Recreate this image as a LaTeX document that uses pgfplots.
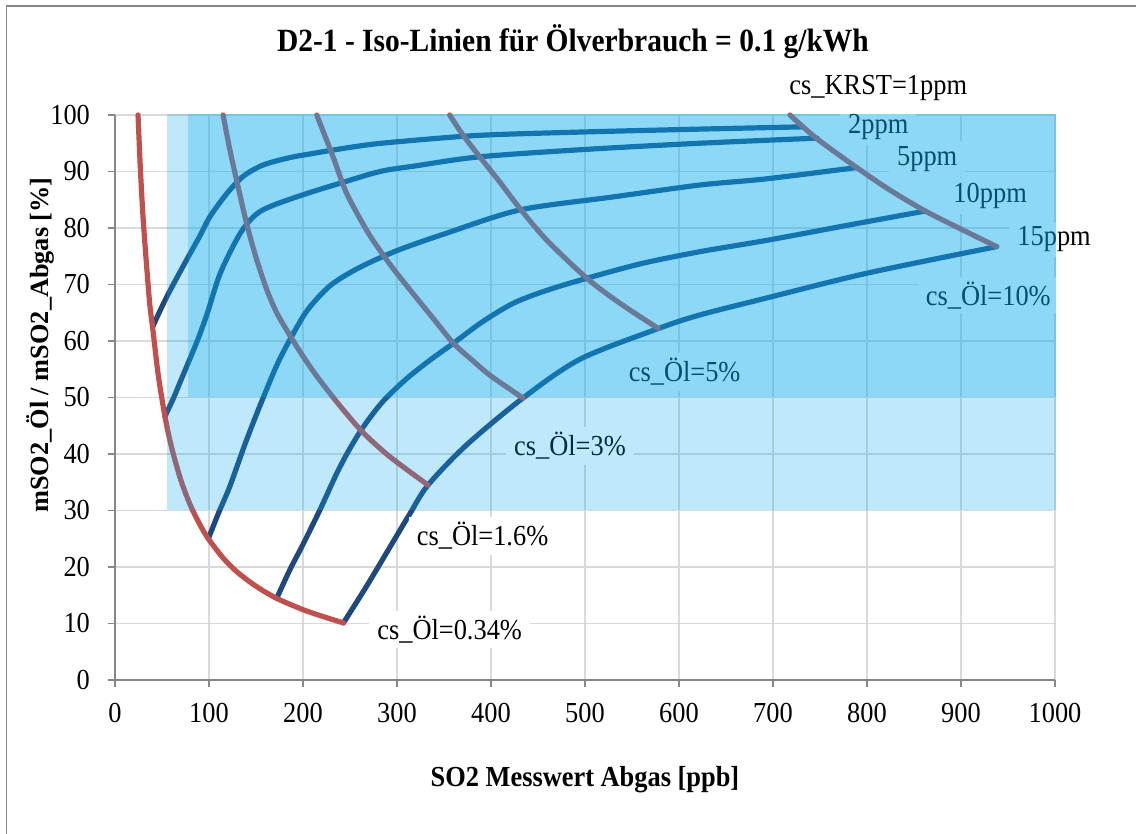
\documentclass[border=0pt]{standalone}
\usepackage{fontspec}
\setmainfont{Liberation Serif}[FakeStretch=0.91]
\newfontfamily\ylabfont{Liberation Serif}
\usepackage{pgfplots}
\pgfplotsset{compat=1.18}

\definecolor{redline}{RGB}{192,80,77}
\definecolor{navy}{RGB}{31,73,125}
\definecolor{shade}{RGB}{7,171,237}
\definecolor{gridgray}{RGB}{217,217,217}
\definecolor{axisgray}{RGB}{134,134,134}

\newcommand{\lab}{\fontsize{14.5}{17}\selectfont}

\begin{document}
\begin{tikzpicture}
\useasboundingbox (0,0) rectangle (568pt,417pt);
\draw[axisgray, line width=0.8pt] (3.3pt,-5pt) -- (3.3pt,414pt) -- (575pt,414pt);

\begin{axis}[
    at={(57.5pt,77pt)}, anchor=south west,
    scale only axis, width=470pt, height=282.5pt,
    xmin=0, xmax=1000, ymin=0, ymax=100,
    xtick distance=100, ytick distance=10,
    axis lines=left,
    axis line style={-, draw=axisgray, line width=0.75pt},
    grid=major, major grid style={draw=gridgray, line width=0.75pt},
    tick align=outside, major tick length=3.5pt,
    tick style={draw=axisgray, line width=0.75pt},
    tick label style={font=\lab},
    xticklabel style={yshift=-4.5pt},
    yticklabel style={xshift=-5.5pt},
    /pgf/number format/assume math mode=true,
    /pgf/number format/1000 sep={},
    clip=false,
    every axis plot/.append style={line width=2.6pt, line join=round, line cap=round, smooth, tension=0.5},
]
% cs_KRST iso-lines (navy)
\addplot[navy] coordinates {(40.3,62.6) (55,67.8) (76,74.3) (90,78.5) (101,82) (119,86.1) (136,89.1) (154,90.9) (170,91.8) (190,92.6) (211,93.2) (232,93.8) (268,94.7) (303,95.3) (388,96.4) (500,97) (622,97.5) (732,97.9)};
\addplot[navy] coordinates {(53,46.6) (62,49.8) (70,53) (87,59.8) (98,64.8) (112,72) (133,79) (150,82.4) (168,84) (204,86.1) (239,87.9) (282,90) (320,91) (388,92.6) (500,93.9) (622,95) (747,95.9)};
\addplot[navy] coordinates {(99.3,25) (110,29.5) (122,34.2) (140,42.5) (158,50.1) (175.5,56.9) (200,64.3) (215,67.5) (232,70.2) (260,73) (300,76) (353,79.1) (431,83.2) (530,85.5) (622,87.6) (693,88.7) (789,90.7)};
\addplot[navy] coordinates {(172,14.45) (186,19.5) (200,24) (218,30.1) (236,36.6) (250,41) (265,45) (285,49.3) (310,53.3) (335,56.6) (360,59.6) (390,63.3) (424,66.7) (460,69) (502,71.1) (560,73.7) (622,75.8) (693,77.8) (780,80.5) (862,83)};
\addplot[navy] coordinates {(243,10.1) (268,16.7) (296,24.5) (314,29.5) (333,34.5) (374,41.6) (434,49.9) (495,56.8) (578,62.2) (622,64.6) (693,67.6) (800,72) (938,76.7)};
% cs_Oel iso-lines (red)
\addplot[redline] coordinates {(24.5,100) (27,90.5) (30,81.5) (34,72.5) (37,66.5) (40.3,62) (46,54) (53,46.8) (60,41.3) (70,35.4) (80,31) (90,27.6) (99.3,25) (115,21.6) (130,19.1) (150,16.6) (172,14.45) (200,12.45) (220,11.3) (243,10.1)};
\addplot[redline] coordinates {(115,100) (122,94) (130,88) (140,80.8) (150,74.8) (161,69.3) (172,65) (186,61) (200,57.3) (215,53.7) (236,49.2) (250,46.4) (265,43.6) (292.5,39.5) (333,34.5)};
\addplot[redline] coordinates {(214.6,100) (232,92.6) (246.5,86.1) (268,79.5) (282,76) (296,72.8) (317,68.4) (340,63.7) (360,59.6) (380,56.6) (400,53.8) (434,49.9)};
\addplot[redline] coordinates {(356,100) (370,96.5) (388,92.6) (410,88) (431,83.4) (459,77.9) (502,71.1) (537,66.7) (578,62.2)};
\addplot[redline] coordinates {(718,100) (746,95.9) (789,90.7) (824.5,86.7) (862,83) (900,79.8) (938,76.7)};

% labels
\begin{scope}[every node/.style={font=\lab, fill=white, inner xsep=4pt, inner ysep=2.5pt}]
\node at (812,104.8) {cs\_KRST=1ppm};
\node at (812,97.9) {2ppm};
\node at (864,92.2) {5ppm};
\node at (931,85.7) {10ppm};
\node at (999,78) {15ppm};
\node at (929,68) {cs\_Öl=10\%};
\node at (606,54.5) {cs\_Öl=5\%};
\node at (484,41.4) {cs\_Öl=3\%};
\node at (391,25.5) {cs\_Öl=1.6\%};
\node at (356,9) {cs\_Öl=0.34\%};
\end{scope}

% shaded ranges
\addplot[draw=none, fill=shade, fill opacity=0.26, line width=0pt, sharp plot] coordinates {(55,30) (1001,30) (1001,100.2) (55,100.2)} -- cycle;
\addplot[draw=none, fill=shade, fill opacity=0.27, line width=0pt, sharp plot] coordinates {(78,50) (1001,50) (1001,100.2) (78,100.2)} -- cycle;
\end{axis}

\node[anchor=base, font=\fontsize{16.2}{19}\selectfont\bfseries] at (286.5pt,391pt) {D2-1 - Iso-Linien für Ölverbrauch = 0.1 g/kWh};
\node[font=\fontsize{14.5}{17}\selectfont\bfseries] at (292.5pt,27pt) {SO2 Messwert Abgas [ppb]};
\node[rotate=90, font=\ylabfont\fontsize{13.15}{16}\selectfont\bfseries] at (20pt,244.5pt) {mSO2\_Öl / mSO2\_Abgas [\%]};
\end{tikzpicture}
\end{document}
